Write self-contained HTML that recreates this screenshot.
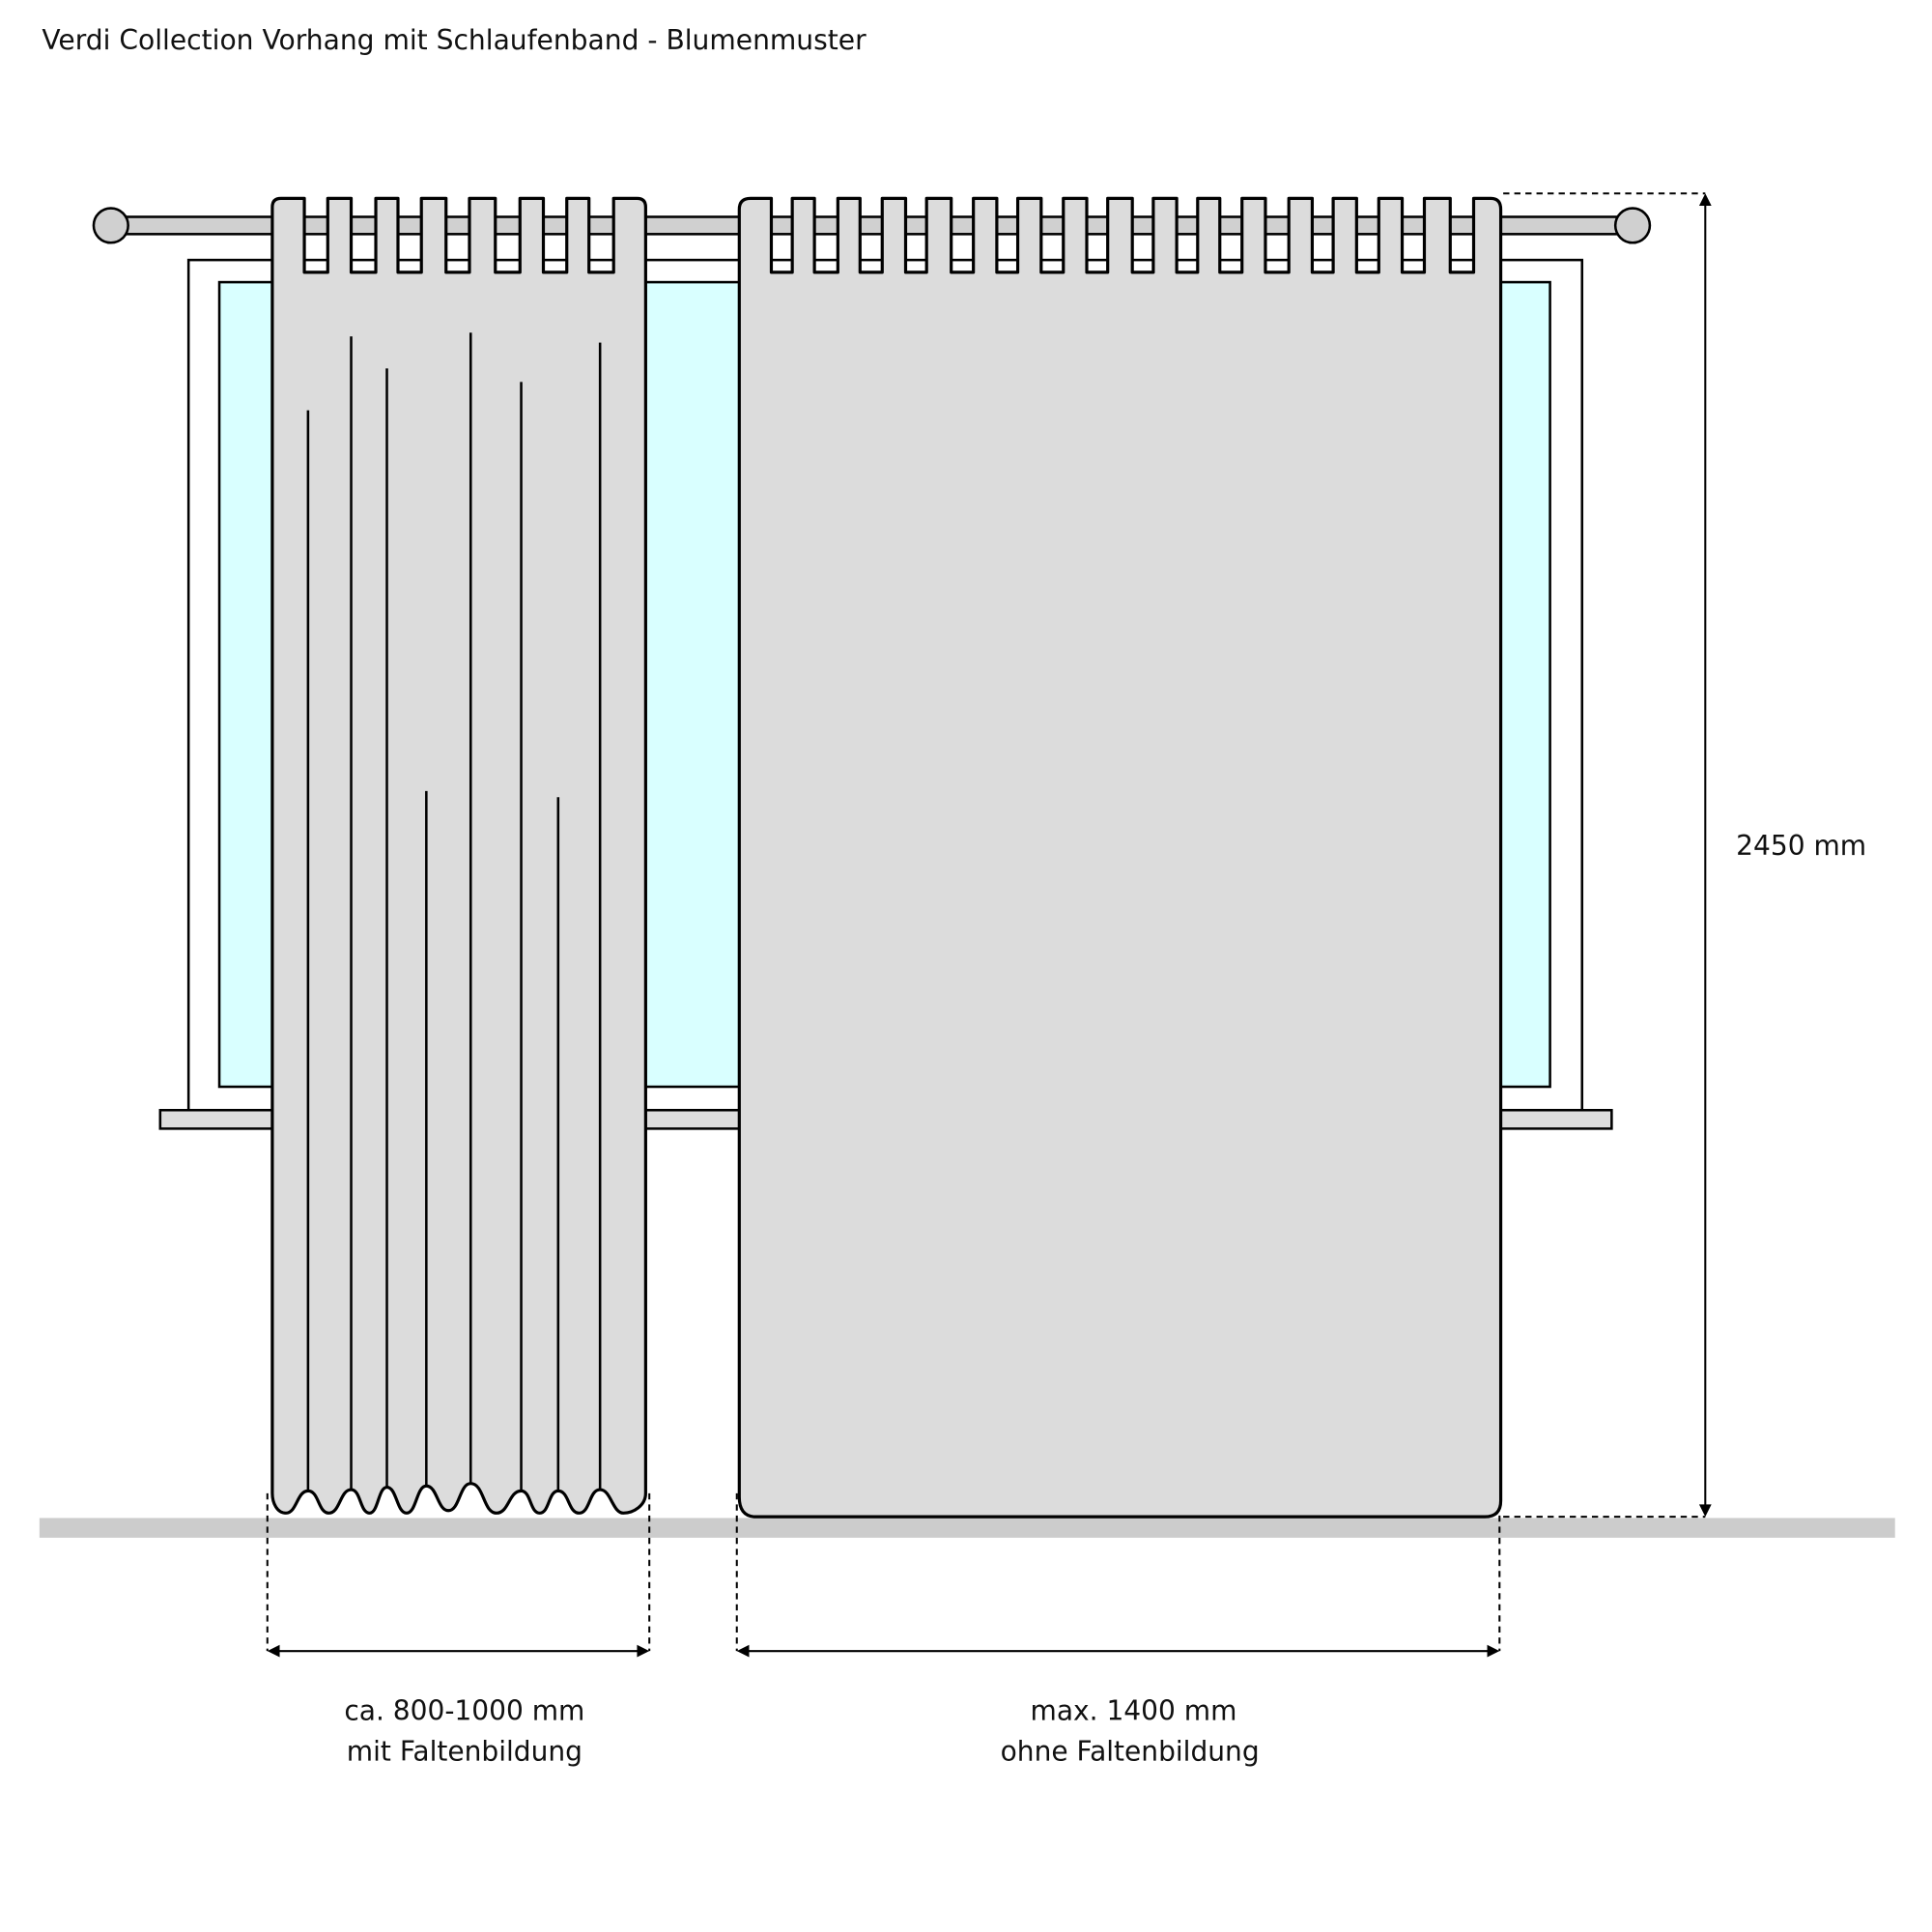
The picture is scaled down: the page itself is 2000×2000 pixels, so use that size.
<!DOCTYPE html>
<html><head><meta charset="utf-8"><style>
html,body{margin:0;padding:0;background:#fff;}
svg{display:block;}
text{font-family:"DejaVu Sans","Liberation Sans",sans-serif;font-size:22px;fill:#111;}
</style></head><body>
<svg width="2000" height="2000" viewBox="0 0 1568 1568" xmlns="http://www.w3.org/2000/svg">
<text x="34" y="40" textLength="669" lengthAdjust="spacingAndGlyphs">Verdi Collection Vorhang mit Schlaufenband - Blumenmuster</text>

<!-- window -->
<rect x="153" y="211" width="1131" height="690" fill="#fff" stroke="#000" stroke-width="2"/>
<rect x="178" y="229" width="1080" height="653" fill="#d9ffff" stroke="#000" stroke-width="2"/>
<rect x="130" y="901" width="1178" height="15" fill="#dcdcdc" stroke="#000" stroke-width="2"/>

<!-- rod -->
<rect x="95" y="176" width="1225" height="14" fill="#d0d0d0" stroke="#000" stroke-width="2"/>
<circle cx="90" cy="183" r="14" fill="#d0d0d0" stroke="#000" stroke-width="2"/>
<circle cx="1325" cy="183" r="14" fill="#d0d0d0" stroke="#000" stroke-width="2"/>

<!-- floor -->
<rect x="32" y="1232" width="1506" height="16" fill="#cccccc"/>

<!-- left curtain -->
<path fill="#dcdcdc" stroke="#000" stroke-width="2.5" stroke-linejoin="round" d="
M221,1212 L221,168 Q221,161 228,161 L247,161 L247,221 L266,221 L266,161 L285,161 L285,221 L305,221 L305,161 L323,161 L323,221 L342,221 L342,161 L362,161 L362,221 L381,221 L381,161 L402,161 L402,221 L422,221 L422,161 L441,161 L441,221 L460,221 L460,161 L478,161 L478,221 L498,221 L498,161 L517,161 Q524,161 524,168 L524,1212
C524,1222 514,1228 506,1228
C497,1228 496,1209 487,1209
C478,1209 479,1228 470,1228
C461,1228 462,1210 453,1210
C445,1210 446,1228 438,1228
C430,1228 431,1210 423,1210
C413,1210 413,1228 403,1228
C392,1228 393,1204 382,1204
C373,1204 373,1226 364,1226
C355,1226 355,1206 346,1206
C338,1206 338,1228 330,1228
C322,1228 322,1207 314,1207
C307,1207 307,1228 300,1228
C292,1228 293,1209 285,1209
C276,1209 276,1228 267,1228
C258,1228 259,1210 250,1210
C241,1210 241,1228 232,1228
C225,1228 221,1220 221,1212 Z"/>
<g stroke="#000" stroke-width="2">
<line x1="250" y1="333" x2="250" y2="1210"/>
<line x1="285" y1="273" x2="285" y2="1209"/>
<line x1="314" y1="299" x2="314" y2="1207"/>
<line x1="346" y1="642" x2="346" y2="1206"/>
<line x1="382" y1="270" x2="382" y2="1204"/>
<line x1="423" y1="310" x2="423" y2="1210"/>
<line x1="453" y1="647" x2="453" y2="1210"/>
<line x1="487" y1="278" x2="487" y2="1209"/>
</g>

<!-- right curtain -->
<path fill="#dcdcdc" stroke="#000" stroke-width="2.5" stroke-linejoin="round" d="
M600,1215 L600,170 Q600,161 609,161 L626,161 L626,221 L643,221 L643,161
L661,161 L661,221 L680,221 L680,161
L698,161 L698,221 L716,221 L716,161
L735,161 L735,221 L752,221 L752,161
L772,161 L772,221 L790,221 L790,161
L809,161 L809,221 L826,221 L826,161
L845,161 L845,221 L863,221 L863,161
L882,161 L882,221 L899,221 L899,161
L919,161 L919,221 L936,221 L936,161
L955,161 L955,221 L972,221 L972,161
L990,161 L990,221 L1008,221 L1008,161
L1027,161 L1027,221 L1046,221 L1046,161
L1065,161 L1065,221 L1082,221 L1082,161
L1101,161 L1101,221 L1119,221 L1119,161
L1138,161 L1138,221 L1156,221 L1156,161
L1177,161 L1177,221 L1196,221 L1196,161
L1210,161 Q1218,161 1218,170 L1218,1218 Q1218,1231 1205,1231 L612,1231 Q600,1230 600,1215 Z"/>

<!-- dimensions -->
<g stroke="#000" stroke-width="1.6" stroke-dasharray="5,4" fill="none">
<line x1="217" y1="1212" x2="217" y2="1340"/>
<line x1="527" y1="1212" x2="527" y2="1340"/>
<line x1="598" y1="1212" x2="598" y2="1340"/>
<line x1="1217" y1="1230" x2="1217" y2="1340"/>
<line x1="1220" y1="157" x2="1384" y2="157"/>
<line x1="1220" y1="1231" x2="1384" y2="1231"/>
</g>
<g stroke="#000" stroke-width="1.6">
<line x1="222" y1="1340" x2="522" y2="1340"/>
<line x1="603" y1="1340" x2="1212" y2="1340"/>
<line x1="1384" y1="162" x2="1384" y2="1226"/>
</g>
<g fill="#000">
<polygon points="217,1340 227,1335 227,1345"/>
<polygon points="527,1340 517,1335 517,1345"/>
<polygon points="598,1340 608,1335 608,1345"/>
<polygon points="1217,1340 1207,1335 1207,1345"/>
<polygon points="1384,157 1379,167 1389,167"/>
<polygon points="1384,1231 1379,1221 1389,1221"/>
</g>

<text x="1409" y="694">2450 mm</text>
<text x="377" y="1396" text-anchor="middle">ca. 800-1000 mm</text>
<text x="377" y="1429" text-anchor="middle">mit Faltenbildung</text>
<text x="920" y="1396" text-anchor="middle">max. 1400 mm</text>
<text x="917" y="1429" text-anchor="middle">ohne Faltenbildung</text>
</svg>
</body></html>
